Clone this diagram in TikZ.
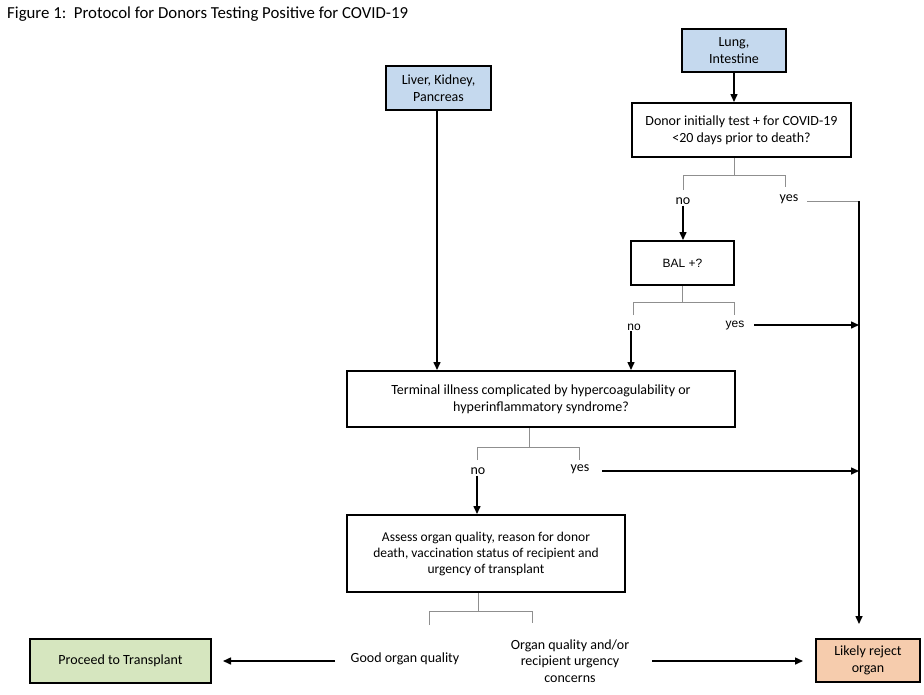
\documentclass[tikz,border=0pt]{standalone}
\usepackage{fontspec}
\setmainfont{Carlito}
\newfontfamily\arialf{Liberation Sans}
\usetikzlibrary{arrows.meta}
\definecolor{lblue}{HTML}{C5D9EE}
\definecolor{lgreen}{HTML}{D6E6BF}
\definecolor{lpeach}{HTML}{F6CCAD}
\definecolor{brk}{HTML}{8F8F8F}
\tikzset{
  box/.style={draw=black, line width=2pt, align=center, inner sep=0pt, font=\fontsize{14}{17}\selectfont},
  lbl/.style={align=center, inner sep=1pt, font=\fontsize{14}{17}\selectfont},
  arr/.style={line width=1.5pt, -{Triangle[length=8pt,width=7pt]}},
  bline/.style={line width=1.5pt},
  brack/.style={draw=brk, line width=1pt},
}
\begin{document}
\begin{tikzpicture}[x=1pt,y=-1pt]
\useasboundingbox[fill=white] (0,0) rectangle (924,694);
\node[anchor=west, inner sep=0pt, font=\fontsize{16.8}{19}\selectfont] (title) at (7,14) {Figure 1:\ \ Protocol for Donors Testing Positive for COVID-19};

\node[box, fill=lblue, minimum width=105pt, minimum height=44pt] (liver) at (438.5,88) {Liver, Kidney,\\Pancreas};
\node[box, fill=lblue, minimum width=104pt, minimum height=43pt] (lung) at (734,50.5) {Lung,\\Intestine};
\node[box, minimum width=219pt, minimum height=54pt] (donor) at (741.5,130) {Donor initially test + for COVID-19\\<20 days prior to death?};
\node[box, minimum width=103pt, minimum height=44pt, font=\arialf\fontsize{12}{14}\selectfont] (bal) at (682.5,263) {BAL +?};
\node[box, minimum width=388pt, minimum height=56pt] (term) at (541,399) {Terminal illness complicated by hypercoagulability or\\hyperinflammatory syndrome?};
\node[box, minimum width=278pt, minimum height=77pt, font=\fontsize{13.5}{16}\selectfont] (assess) at (486,553.5) {Assess organ quality, reason for donor\\death, vaccination status of recipient and\\urgency of transplant};
\node[box, fill=lgreen, minimum width=181pt, minimum height=44pt] (proceed) at (120.5,661) {Proceed to Transplant};
\node[box, fill=lpeach, minimum width=104pt, minimum height=43pt] (reject) at (868,660.5) {Likely reject\\organ};

\node[lbl] (no1) at (683,201) {no};
\node[lbl] (yes1) at (789,199) {yes};
\node[lbl, font=\arialf\fontsize{12}{14}\selectfont] (no2) at (634,327) {no};
\node[lbl, font=\arialf\fontsize{12}{14}\selectfont] (yes2) at (735,326) {yes};
\node[lbl] (no3) at (478,471) {no};
\node[lbl] (yes3) at (580,469) {yes};
\node[lbl] (good) at (405,659) {Good organ quality};
\node[lbl, font=\fontsize{14}{16.5}\selectfont] (conc) at (570,661) {Organ quality and/or\\recipient urgency\\concerns};

% coordinates
\coordinate (c1) at (859,201);
\coordinate (v1) at (859,325);
\coordinate (v2) at (859,471);

% connectors
\draw[arr] (lung.south) -- (lung.south |- donor.north);
\draw[arr] (liver.south -| 437,0) -- (437,0 |- term.north);
\draw[brack] (donor.south -| lung.south) -- ++(0,18) coordinate (b1);
\draw[brack] (683,190) -- (683,175) -- (785,175) -- (785,187);
\draw[arr] (no1.south) -- (no1.south |- bal.north);
\draw[brack] (807,201) -- (c1);
\draw[bline, -{Triangle[length=8pt,width=7pt]}, shorten >=14pt] (c1) -- (c1 |- reject.north);

\draw[brack] (bal.south) -- ++(0,17);
\draw[brack] (633,315) -- (633,302) -- (734,302) -- (734,315);
\draw[arr] (631,0 |- no2.south) -- (631,0 |- term.north);
\draw[arr] (754,325) -- (v1);

\draw[brack] (529,0 |- term.south) -- (529,447);
\draw[brack] (477,460) -- (477,447) -- (579,447) -- (579,460);
\draw[arr] (477,0 |- no3.south) -- (477,0 |- assess.north);
\draw[arr] (602,471) -- (v2);

\draw[brack] (478,0 |- assess.south) -- (478,611);
\draw[brack] (429,625) -- (429,611) -- (532,611) -- (532,623);
\draw[arr, shorten >=11pt] (335,661) -- (proceed.east |- 0,661);
\draw[arr, shorten >=12pt] (652,661) -- (reject.west |- 0,661);
\end{tikzpicture}
\end{document}
